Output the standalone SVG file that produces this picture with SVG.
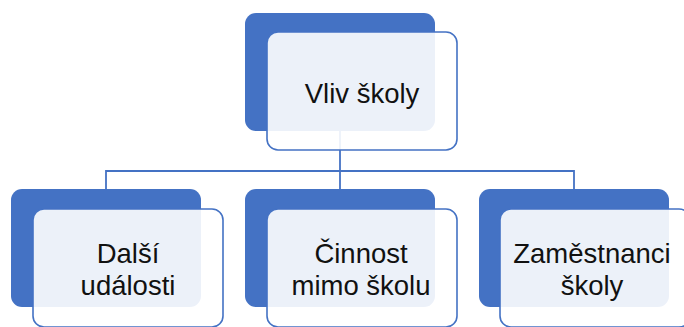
<svg xmlns="http://www.w3.org/2000/svg" width="684" height="327" viewBox="0 0 684 327">
  <style>
    .back { fill: #4472C4; }
    .front { fill: #FFFFFF; fill-opacity: 0.9; stroke: #4472C4; stroke-width: 1.6; }
    .link { fill: none; stroke: #4472C4; stroke-width: 1.8; }
    .label { font-family: "Liberation Sans", Arial, sans-serif; font-size: 27.5px; fill: #111111; text-anchor: middle; }
  </style>
  <rect width="684" height="327" fill="#FFFFFF"/>

  <!-- connectors: root down to the bus, bus out to the three children -->
  <g id="connectors">
    <path class="link" d="M340 131 V171"/>
    <path class="link" d="M106 189 V171 H574 V189"/>
    <path class="link" d="M340 171 V189"/>
  </g>

  <g id="node-vliv-skoly">
    <rect class="back" x="245" y="13" width="190" height="118" rx="11"/>
    <rect class="front" x="267" y="32" width="190" height="118" rx="11"/>
    <text class="label" x="362" y="103">Vliv školy</text>
  </g>

  <g id="node-dalsi-udalosti">
    <rect class="back" x="11" y="189" width="190" height="118" rx="11"/>
    <rect class="front" x="33" y="209" width="190" height="118" rx="11"/>
    <text class="label" x="128" y="263">Další</text>
    <text class="label" x="128" y="295">události</text>
  </g>

  <g id="node-cinnost-mimo-skolu">
    <rect class="back" x="245" y="189" width="190" height="118" rx="11"/>
    <rect class="front" x="267" y="209" width="190" height="118" rx="11"/>
    <text class="label" x="361" y="263">Činnost</text>
    <text class="label" x="361" y="295">mimo školu</text>
  </g>

  <g id="node-zamestnanci-skoly">
    <rect class="back" x="479" y="189" width="190" height="118" rx="11"/>
    <rect class="front" x="500" y="209" width="190" height="118" rx="11"/>
    <text class="label" x="592" y="263">Zaměstnanci</text>
    <text class="label" x="592" y="295">školy</text>
  </g>
</svg>
